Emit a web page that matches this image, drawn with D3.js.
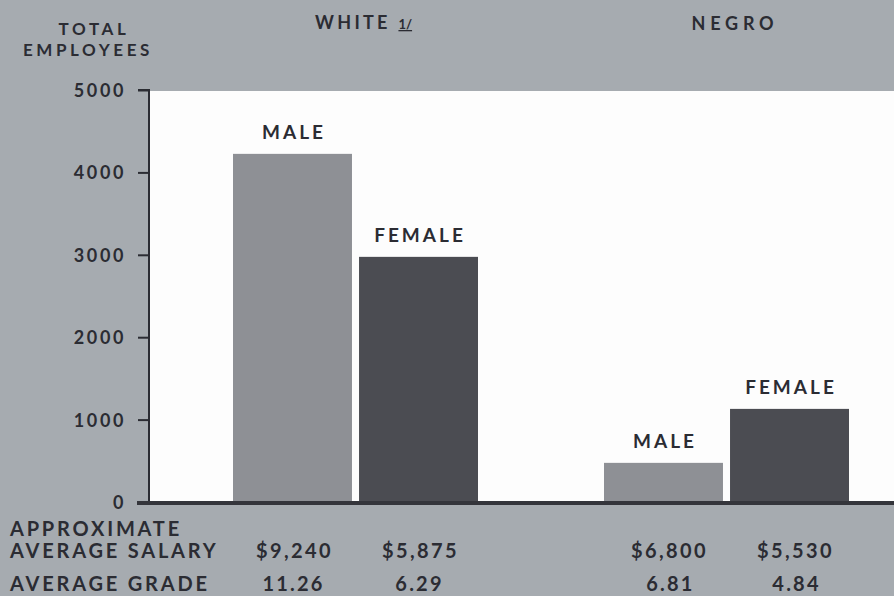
<!DOCTYPE html>
<html>
<head>
<meta charset="utf-8">
<script src="https://cdn.jsdelivr.net/npm/d3@7"></script>
<style>
  html, body { margin: 0; padding: 0; background: #a6abb0; }
  svg { display: block; }
  text { font-family: Lato, "Open Sans", sans-serif; font-weight: 700; fill: #2b2c33; }
</style>
</head>
<body>
<div id="chart"></div>
<script>
// data
const groups = ["WHITE", "NEGRO"];
const sexes = ["MALE", "FEMALE"];
const employees = {
    WHITE: [4225, 2975],
    NEGRO: [475, 1130]
};
const salaries = {
    WHITE: ["$9,240", "$5,875"],
    NEGRO: ["$6,800", "$5,530"]
};
const grades = {
    WHITE: ["11.26", "6.29"],
    NEGRO: ["6.81", "4.84"]
};
const yTicks = [0, 1000, 2000, 3000, 4000, 5000];

const width = 894, height = 596;
const plotLeft = 149, plotTop = 90, plotBottom = 502;
const colors = { MALE: "#8e9095", FEMALE: "#4b4c52" };

const svg = d3.select("#chart").append("svg")
    .attr("width", width)
    .attr("height", height);

// scales
const y = d3.scaleLinear().domain([0, 5000]).range([plotBottom, plotTop]);
const xGroup = d3.scaleBand().domain(groups).range([170, 912]).padding(0);
const xSex = d3.scaleBand().domain(sexes).range([-122.5, 122.5]).paddingInner(0.056).paddingOuter(0);
const barX = (g, s) => xGroup(g) + xGroup.bandwidth() / 2 + xSex(s);
const barCx = (g, s) => barX(g, s) + xSex.bandwidth() / 2;

// white plot area
svg.append("rect")
    .attr("x", plotLeft)
    .attr("y", y(5000) + 1)
    .attr("width", width - plotLeft)
    .attr("height", y(0) - y(5000))
    .attr("fill", "#fdfdfd");

// bars
const rows = [];
groups.forEach(g => sexes.forEach((s, i) => rows.push({ g, s, i, v: employees[g][i] })));

svg.selectAll("rect.bar").data(rows).join("rect")
    .attr("class", "bar")
    .attr("x", d => barX(d.g, d.s))
    .attr("y", d => y(d.v))
    .attr("width", xSex.bandwidth())
    .attr("height", d => y(0) - y(d.v))
    .attr("fill", d => colors[d.s]);

svg.selectAll("text.bar-label").data(rows).join("text")
    .attr("class", "bar-label")
    .attr("x", d => barCx(d.g, d.s) + 1.5)
    .attr("y", d => y(d.v) - 15)
    .attr("text-anchor", "middle")
    .attr("font-size", 19)
    .attr("letter-spacing", 3)
    .text(d => d.s);

// y axis
const yAxis = d3.axisLeft(y).tickValues(yTicks).tickSize(11).tickPadding(12).tickFormat(d3.format("d"));
const ga = svg.append("g")
    .attr("transform", `translate(${plotLeft},0)`)
    .call(yAxis);
ga.select(".domain").attr("stroke", "#2b2c33").attr("stroke-width", 2).attr("d", `M-11,${y(5000)}H0V${y(0)}`);
ga.selectAll(".tick line").attr("stroke", "#2b2c33").attr("stroke-width", 2);
ga.selectAll(".tick text")
    .attr("font-size", 18)
    .attr("letter-spacing", 2.6)
    .attr("font-family", "Lato, sans-serif")
    .attr("font-weight", 700)
    .attr("fill", "#2b2c33")
    .attr("dy", "0.36em");

// baseline
svg.append("line")
    .attr("x1", 137).attr("x2", width)
    .attr("y1", y(0) + 1).attr("y2", y(0) + 1)
    .attr("stroke", "#34353b")
    .attr("stroke-width", 4);

// headers
const th = svg.append("text")
    .attr("y", 35)
    .attr("text-anchor", "middle")
    .attr("font-size", 17)
    .attr("letter-spacing", 3.6);
th.append("tspan").attr("x", 94).attr("dy", 0).text("TOTAL");
th.append("tspan").attr("x", 88).attr("dy", 21).text("EMPLOYEES");

const wh = svg.append("text")
    .attr("x", 315).attr("y", 29)
    .attr("font-size", 18)
    .attr("letter-spacing", 3.3);
wh.append("tspan").text("WHITE ");
wh.append("tspan").attr("font-size", 13).attr("letter-spacing", 0).attr("text-decoration", "underline").text("1/");

svg.append("text")
    .attr("x", 735).attr("y", 30)
    .attr("text-anchor", "middle")
    .attr("font-size", 18)
    .attr("letter-spacing", 4.8)
    .text("NEGRO");

// footer rows
const footer = svg.append("g");
[["APPROXIMATE", 536], ["AVERAGE SALARY", 558], ["AVERAGE GRADE", 591]].forEach(([t, yy]) => {
    footer.append("text").attr("x", 10).attr("y", yy)
        .attr("font-size", 20).attr("letter-spacing", 2.8).text(t);
});

svg.selectAll("text.salary").data(rows).join("text")
    .attr("class", "salary")
    .attr("x", d => barCx(d.g, d.s) + (d.g === "NEGRO" ? 6 : 2))
    .attr("y", 558)
    .attr("text-anchor", "middle")
    .attr("font-size", 20)
    .attr("letter-spacing", 2.4)
    .text(d => salaries[d.g][d.i]);

svg.selectAll("text.grade").data(rows).join("text")
    .attr("class", "grade")
    .attr("x", d => barCx(d.g, d.s) + (d.g === "NEGRO" ? 7 : 1))
    .attr("y", 591)
    .attr("text-anchor", "middle")
    .attr("font-size", 20)
    .attr("letter-spacing", 2.2)
    .text(d => grades[d.g][d.i]);
</script>
</body>
</html>
